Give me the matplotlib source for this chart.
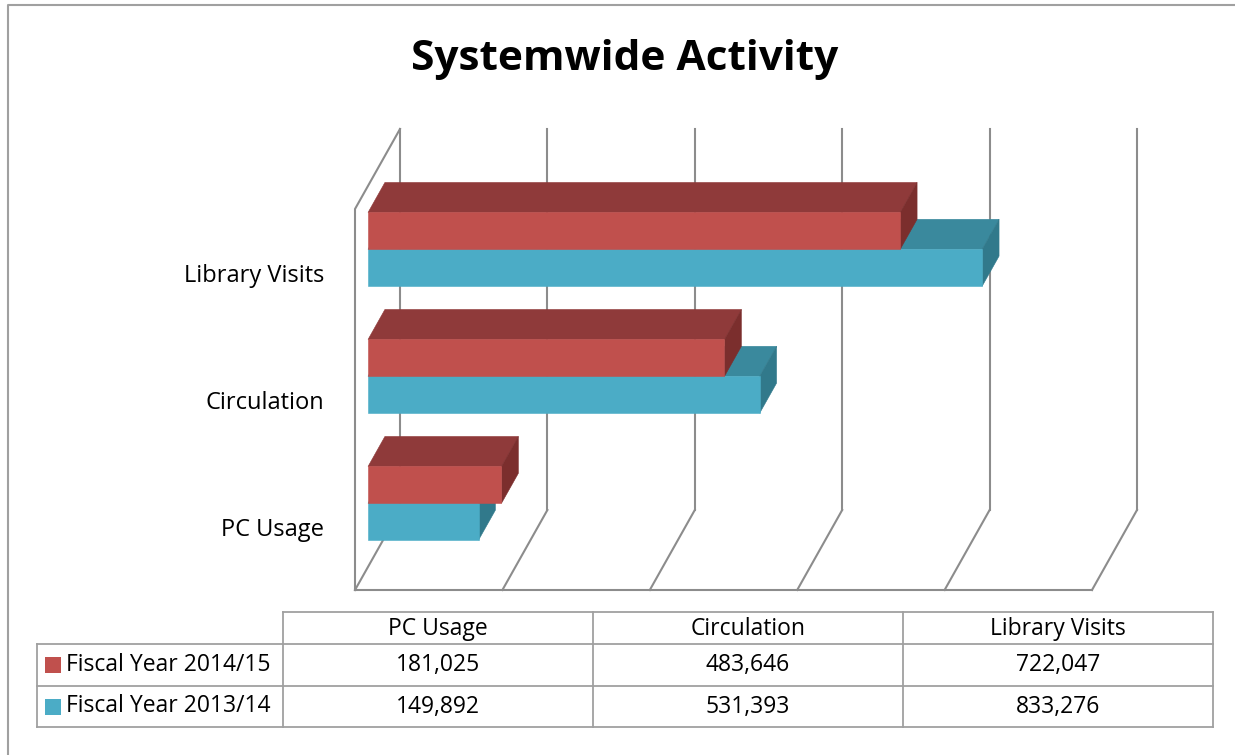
import matplotlib
matplotlib.use("Agg")
import matplotlib.pyplot as plt
from matplotlib.patches import Polygon, Rectangle

# data
categories = ["PC Usage", "Circulation", "Library Visits"]
series_names = ["Fiscal Year 2014/15", "Fiscal Year 2013/14"]
fy_2014_15 = [181025, 483646, 722047]
fy_2013_14 = [149892, 531393, 833276]
x_ticks = [0, 200000, 400000, 600000, 800000, 1000000]

RED = ("#C0504D", "#8F3A3A", "#7B2E2D")    # front, top, side
BLUE = ("#4BACC6", "#3A899D", "#31798B")
GRID = "#8C8C8C"
FONT = ["Open Sans", "DejaVu Sans"]

plt.rcParams["font.family"] = FONT

W, H = 1235, 755
fig = plt.figure(figsize=(W / 100, H / 100), dpi=100)

# oblique depth: one unit of depth moves 45px right and 80px up
XMAX = 1e6
DX = 45 / 737 * XMAX
DY = 80 / 127


def proj(x, y, d):
    return (x + d * DX, y + d * DY)


ax = fig.add_axes([355 / W, (H - 590) / H, 737 / W, 381 / H])
ax.set_xlim(0, XMAX)
ax.set_ylim(-0.5, 2.5)
ax.axis("off")

# walls / gridlines
y0, y1 = -0.5, 2.5
for v in x_ticks:
    p0, p1 = proj(v, y0, 1), proj(v, y1, 1)
    ax.plot([p0[0], p1[0]], [p0[1], p1[1]], color=GRID, lw=1.5, clip_on=False, zorder=1)
    f0 = proj(v, y0, 0)
    ax.plot([f0[0], p0[0]], [f0[1], p0[1]], color=GRID, lw=1.5, clip_on=False, zorder=1)
ax.plot([0, XMAX], [y0, y0], color=GRID, lw=1.5, clip_on=False, zorder=1)
b = proj(0, y1, 1)
ax.plot([0, 0, b[0]], [y0, y1, b[1]], color=GRID, lw=1.5, clip_on=False, zorder=1)

# 3d bars
HALF = 0.29
D0, D1 = 0.29, 0.665


def bar3d(val, lo, hi, cols, z):
    front = [proj(0, lo, D0), proj(val, lo, D0), proj(val, hi, D0), proj(0, hi, D0)]
    top = [proj(0, hi, D0), proj(val, hi, D0), proj(val, hi, D1), proj(0, hi, D1)]
    side = [proj(val, lo, D0), proj(val, lo, D1), proj(val, hi, D1), proj(val, hi, D0)]
    for pts, c in ((top, cols[1]), (side, cols[2]), (front, cols[0])):
        ax.add_patch(Polygon(pts, closed=True, facecolor=c, edgecolor=c, lw=0.4,
                             clip_on=False, zorder=z))


for i in range(len(categories)):
    bar3d(fy_2013_14[i], i - HALF, i, BLUE, 3)
    bar3d(fy_2014_15[i], i, i + HALF, RED, 4)
    ax.text(-42000, i - 0.03, categories[i], ha="right", va="center", fontsize=17,
            color="black")

# overlay axes in pixel coords for title, table, border
ov = fig.add_axes([0, 0, 1, 1], zorder=-1)
ov.set_xlim(0, W)
ov.set_ylim(H, 0)
ov.axis("off")

ov.plot([8, 8, W + 5], [H + 5, 5, 5], color="#A0A0A0", lw=1.5, clip_on=False)
ov.text(625, 59, "Systemwide Activity", ha="center", va="center",
        fontsize=30.5, fontweight="bold")

# data table
TCOL = "#A0A0A0"
col_x = [283, 593, 903, 1213]
row_y = [612, 644, 686, 727]
left = 37
ov.plot([col_x[0], col_x[-1]], [row_y[0], row_y[0]], color=TCOL, lw=1.3)
for yy in row_y[1:]:
    ov.plot([left, col_x[-1]], [yy, yy], color=TCOL, lw=1.3)
for xx in col_x:
    ov.plot([xx, xx], [row_y[0], row_y[-1]], color=TCOL, lw=1.3)
ov.plot([left, left], [row_y[1], row_y[-1]], color=TCOL, lw=1.3)

for j, cat in enumerate(categories):
    cx = (col_x[j] + col_x[j + 1]) / 2
    ov.text(cx, (row_y[0] + row_y[1]) / 2 + 1, cat, ha="center", va="center", fontsize=16.5)

rows = [fy_2014_15, fy_2013_14]
keys = [RED[0], BLUE[0]]
for r, (name, vals, kc) in enumerate(zip(series_names, rows, keys)):
    cy = (row_y[r + 1] + row_y[r + 2]) / 2
    ov.add_patch(Rectangle((45, cy - 8), 16, 16, facecolor=kc, edgecolor="none"))
    ov.text(66, cy, name, ha="left", va="center", fontsize=16.5)
    for j, v in enumerate(vals):
        cx = (col_x[j] + col_x[j + 1]) / 2
        ov.text(cx, cy, f"{v:,}", ha="center", va="center", fontsize=16.5)

fig.savefig("out.png", dpi=100)
